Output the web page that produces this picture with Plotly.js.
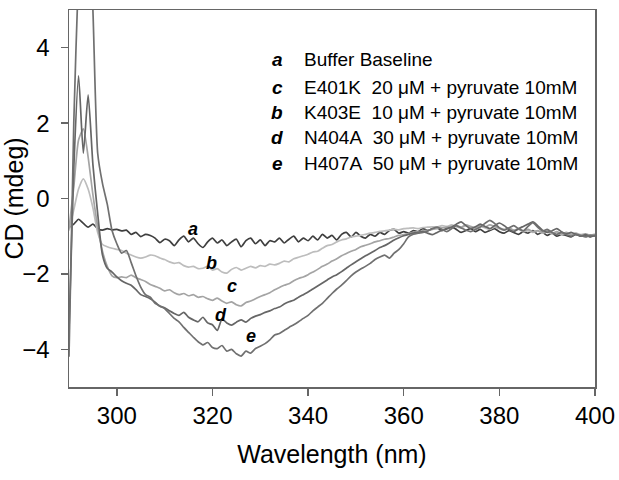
<!DOCTYPE html>
<html>
<head>
<meta charset="utf-8">
<script src="https://cdn.plot.ly/plotly-3.0.1.min.js"></script>
<style>
  html, body { margin: 0; padding: 0; background: #fff; }
  #chart { width: 619px; height: 480px; }
</style>
</head>
<body>
<div id="chart"></div>
<script>
// wavelength grid (nm), one reading per nm
const wavelength = [
  290, 291, 292, 293, 294, 295, 296, 297, 298, 299,
  300, 301, 302, 303, 304, 305, 306, 307, 308, 309,
  310, 311, 312, 313, 314, 315, 316, 317, 318, 319,
  320, 321, 322, 323, 324, 325, 326, 327, 328, 329,
  330, 331, 332, 333, 334, 335, 336, 337, 338, 339,
  340, 341, 342, 343, 344, 345, 346, 347, 348, 349,
  350, 351, 352, 353, 354, 355, 356, 357, 358, 359,
  360, 361, 362, 363, 364, 365, 366, 367, 368, 369,
  370, 371, 372, 373, 374, 375, 376, 377, 378, 379,
  380, 381, 382, 383, 384, 385, 386, 387, 388, 389,
  390, 391, 392, 393, 394, 395, 396, 397, 398, 399,
  400
];

// a: buffer baseline
const cdA = [
  -0.76, -0.68, -0.55, -0.66, -0.76, -0.68, -0.80, -0.84, -0.80, -0.83,
  -0.82, -0.86, -0.84, -0.95, -0.90, -1.01, -0.95, -0.98, -1.05, -1.17,
  -1.08, -1.12, -1.25, -1.10, -1.00, -1.15, -1.05, -1.20, -1.30, -1.15,
  -1.05, -1.18, -1.10, -1.25, -1.15, -1.08, -1.28, -1.12, -1.05, -1.20,
  -1.10, -1.25, -1.12, -1.15, -1.05, -1.18, -1.08, -1.00, -1.15, -1.05,
  -1.12, -1.00, -1.10, -0.95, -1.05, -0.98, -1.10, -0.95, -0.90, -1.02,
  -0.90, -1.00, -1.05, -0.95, -1.00, -0.90, -0.95, -0.85, -0.82, -0.92,
  -0.88, -0.92, -0.85, -0.88, -0.80, -0.85, -0.80, -0.78, -0.85, -0.80,
  -0.75, -0.82, -0.90, -0.85, -0.80, -0.88, -0.82, -0.90, -0.85, -0.80,
  -0.88, -0.92, -0.85, -0.90, -0.95, -0.88, -0.92, -0.85, -0.95, -0.90,
  -0.98, -0.92, -1.00, -0.95, -0.98, -1.02, -0.95, -1.00, -0.97, -1.02,
  -0.98
];

// b: K403E 10 uM + pyruvate
const cdB = [
  -0.85, -0.30, 0.25, 0.52, 0.25, -0.25, -0.90, -1.22, -1.28, -1.32,
  -1.35, -1.38, -1.45, -1.50, -1.55, -1.58, -1.55, -1.50, -1.52, -1.58,
  -1.62, -1.68, -1.72, -1.70, -1.78, -1.82, -1.80, -1.86, -1.85, -1.80,
  -1.90, -1.86, -1.95, -1.98, -1.88, -1.83, -1.90, -1.85, -1.80, -1.84,
  -1.78, -1.80, -1.74, -1.76, -1.72, -1.66, -1.68, -1.60, -1.56, -1.52,
  -1.48, -1.42, -1.40, -1.32, -1.25, -1.22, -1.15, -1.10, -1.07, -1.02,
  -1.00, -0.98, -0.95, -0.92, -0.90, -0.87, -0.86, -0.84, -0.82, -0.83,
  -0.80, -0.79, -0.78, -0.80, -0.77, -0.76, -0.75, -0.76, -0.72, -0.74,
  -0.70, -0.75, -0.78, -0.72, -0.76, -0.80, -0.74, -0.78, -0.82, -0.76,
  -0.80, -0.84, -0.80, -0.85, -0.82, -0.88, -0.85, -0.90, -0.86, -0.92,
  -0.88, -0.94, -0.90, -0.95, -0.92, -0.96, -0.94, -0.98, -0.95, -0.97,
  -0.96
];

// c: E401K 20 uM + pyruvate
const cdC = [
  -0.80, 0.30, 1.55, 1.85, 1.10, 0.10, -0.75, -1.40, -1.80, -2.05,
  -2.10, -2.08, -2.10, -2.03, -2.10, -2.15, -2.20, -2.28, -2.33, -2.38,
  -2.45, -2.42, -2.50, -2.55, -2.52, -2.58, -2.55, -2.62, -2.60, -2.66,
  -2.70, -2.64, -2.72, -2.78, -2.74, -2.82, -2.85, -2.76, -2.72, -2.66,
  -2.60, -2.55, -2.50, -2.42, -2.36, -2.30, -2.26, -2.18, -2.12, -2.08,
  -2.02, -1.95, -1.88, -1.80, -1.74, -1.66, -1.60, -1.52, -1.46, -1.40,
  -1.35, -1.28, -1.24, -1.20, -1.15, -1.12, -1.08, -1.06, -1.02, -0.98,
  -0.96, -0.93, -0.90, -0.88, -0.86, -0.84, -0.82, -0.80, -0.78, -0.76,
  -0.74, -0.72, -0.76, -0.70, -0.74, -0.78, -0.72, -0.76, -0.70, -0.74,
  -0.78, -0.82, -0.78, -0.84, -0.80, -0.86, -0.82, -0.88, -0.85, -0.90,
  -0.86, -0.92, -0.88, -0.94, -0.90, -0.95, -0.92, -0.96, -0.94, -0.97,
  -0.95
];

// d: N404A 30 uM + pyruvate
const cdD = [
  -3.50, 0.80, 3.25, 1.20, 2.75, 0.90, -0.40, -1.50, -1.85, -1.95,
  -2.08, -2.18, -2.25, -2.30, -2.42, -2.55, -2.60, -2.66, -2.75, -2.86,
  -2.90, -2.98, -3.05, -3.10, -3.02, -3.15, -3.22, -3.27, -3.15, -3.30,
  -3.35, -3.50, -3.20, -3.30, -3.36, -3.28, -3.22, -3.28, -3.18, -3.12,
  -3.08, -3.02, -2.98, -2.92, -2.88, -2.80, -2.74, -2.70, -2.62, -2.55,
  -2.48, -2.40, -2.32, -2.24, -2.16, -2.08, -2.02, -1.94, -1.85, -1.76,
  -1.68, -1.60, -1.52, -1.45, -1.38, -1.30, -1.25, -1.18, -1.10, -1.04,
  -0.99, -0.95, -0.92, -0.90, -0.88, -0.92, -0.96, -0.90, -0.84, -0.80,
  -0.76, -0.68, -0.62, -0.72, -0.80, -0.75, -0.68, -0.74, -0.80, -0.72,
  -0.65, -0.72, -0.82, -0.88, -0.80, -0.74, -0.68, -0.62, -0.72, -0.84,
  -0.90, -0.86, -0.80, -0.88, -0.94, -0.90, -0.95, -1.00, -0.96, -1.00,
  -0.98
];

// e: H407A 50 uM + pyruvate
const cdE = [
  -4.20, 2.00, 6.00, 8.50, 8.00, 5.00, 1.20, 0.40, -0.15, -0.85,
  -1.20, -1.45, -1.38, -1.70, -2.05, -2.35, -2.55, -2.62, -2.78, -2.85,
  -2.92, -3.05, -3.18, -3.27, -3.42, -3.55, -3.68, -3.80, -3.88, -3.82,
  -3.95, -3.98, -3.90, -4.05, -4.00, -4.12, -4.18, -4.05, -4.10, -3.98,
  -3.92, -3.85, -3.75, -3.62, -3.58, -3.50, -3.42, -3.35, -3.27, -3.18,
  -3.10, -2.98, -2.88, -2.78, -2.65, -2.52, -2.40, -2.30, -2.18, -2.05,
  -1.95, -1.87, -1.80, -1.72, -1.62, -1.55, -1.50, -1.58, -1.45, -1.35,
  -1.20, -1.02, -0.95, -0.92, -0.90, -0.86, -0.80, -0.76, -0.82, -0.88,
  -0.80, -0.72, -0.78, -0.84, -0.88, -0.82, -0.76, -0.66, -0.58, -0.66,
  -0.78, -0.84, -0.78, -0.72, -0.80, -0.86, -0.74, -0.64, -0.76, -0.86,
  -0.82, -0.90, -0.95, -0.90, -0.96, -1.00, -0.95, -0.98, -1.02, -0.98,
  -1.00
];

const seriesLetters = ["a", "b", "c", "d", "e"];
const seriesValues = [cdA, cdB, cdC, cdD, cdE];
const seriesColors = ["#3f3f3f", "#bdbdbd", "#a4a4a4", "#666666", "#707070"];

// key block, in the order printed on the chart
const keyLetters = ["a", "c", "b", "d", "e"];
const keyTexts = [
  "Buffer Baseline",
  "E401K\u00a0\u00a020 \u03bcM + pyruvate 10mM",
  "K403E\u00a0\u00a010 \u03bcM + pyruvate 10mM",
  "N404A\u00a0\u00a030 \u03bcM + pyruvate 10mM",
  "H407A\u00a0\u00a050 \u03bcM + pyruvate 10mM"
];

// where each curve letter sits (nm, mdeg)
const curveLabelX = [315.9, 319.9, 324.1, 321.8, 328.0];
const curveLabelY = [-0.80, -1.70, -2.31, -3.10, -3.66];

const FONT = "Liberation Sans, Arial, Helvetica, sans-serif";

let traces = seriesValues.map((vals, i) => ({
  x: wavelength,
  y: vals,
  type: "scatter",
  mode: "lines",
  name: seriesLetters[i],
  line: { color: seriesColors[i], width: 1.7, shape: "spline", smoothing: 0.6 },
  hoverinfo: "skip"
}));

let annotations = [];
curveLabelX.forEach((x, i) => {
  annotations.push({
    x: x, y: curveLabelY[i], xref: "x", yref: "y",
    text: "<b><i>" + seriesLetters[i] + "</i></b>",
    showarrow: false,
    font: { family: FONT, size: 18, color: "#000" }
  });
});

const keyRowY = [3.69, 2.94, 2.27, 1.61, 0.94];
keyLetters.forEach((letter, i) => {
  annotations.push({
    x: 333.5, y: keyRowY[i], xref: "x", yref: "y",
    text: "<b><i>" + letter + "</i></b>",
    showarrow: false,
    font: { family: FONT, size: 19, color: "#000" }
  });
  annotations.push({
    x: 338.7, y: keyRowY[i], xref: "x", yref: "y",
    xanchor: "left",
    text: keyTexts[i],
    showarrow: false,
    font: { family: FONT, size: 19, color: "#000" }
  });
});

let axisCommon = {
  showline: true,
  mirror: true,
  linecolor: "#666",
  linewidth: 1.5,
  ticks: "outside",
  ticklen: 7,
  tickwidth: 1.5,
  tickcolor: "#666",
  showgrid: false,
  zeroline: false,
  tickfont: { family: FONT, size: 24, color: "#000" }
};

let layout = {
  width: 619,
  height: 480,
  margin: { l: 69, r: 24, t: 10, b: 93 },
  paper_bgcolor: "#fff",
  plot_bgcolor: "#fff",
  showlegend: false,
  xaxis: Object.assign({}, axisCommon, {
    range: [290, 400],
    tickvals: [300, 320, 340, 360, 380, 400],
    title: { text: "Wavelength (nm)", font: { family: FONT, size: 25, color: "#000" }, standoff: 17 }
  }),
  yaxis: Object.assign({}, axisCommon, {
    range: [-5, 5],
    tickvals: [-4, -2, 0, 2, 4],
    ticklabelstandoff: 6,
    title: { text: "CD (mdeg)", font: { family: FONT, size: 25, color: "#000" }, standoff: 8 }
  }),
  annotations: annotations
};

Plotly.newPlot("chart", traces, layout, { displayModeBar: false, staticPlot: true });
</script>
</body>
</html>
